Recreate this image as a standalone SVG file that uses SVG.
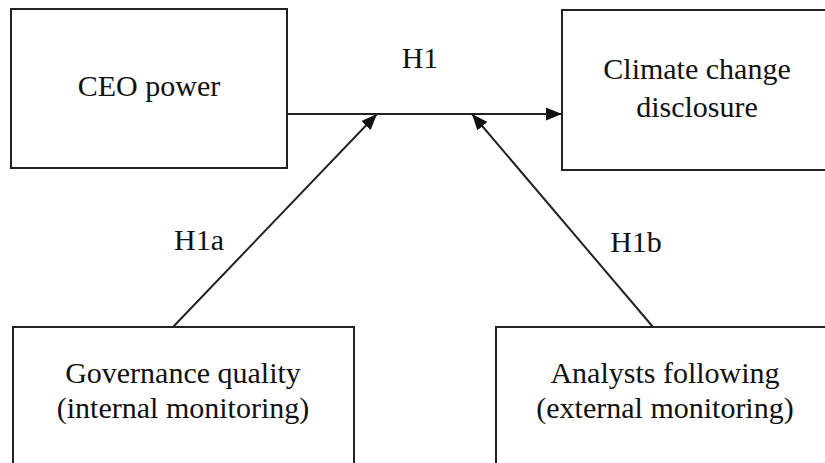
<svg xmlns="http://www.w3.org/2000/svg" width="825" height="463" viewBox="0 0 825 463">
  <style>
    .box { fill: #ffffff; stroke: #222222; stroke-width: 2; }
    .lbl { font-family: "Liberation Serif", "Times New Roman", serif; font-size: 30px; fill: #111111; text-anchor: middle; }
    .link { stroke: #222222; stroke-width: 2; fill: none; }
  </style>
  <defs>
    <marker id="head" viewBox="0 0 10 10" refX="10" refY="5" markerWidth="8" markerHeight="8" markerUnits="userSpaceOnUse" orient="auto">
      <path d="M0,0 L10,5 L0,10 z" fill="#111111"/>
    </marker>
    <marker id="headBig" viewBox="0 0 10 10" refX="10" refY="5" markerWidth="16" markerHeight="13" markerUnits="userSpaceOnUse" orient="auto" preserveAspectRatio="none">
      <path d="M0,0 L10,5 L0,10 z" fill="#111111"/>
    </marker>
  </defs>

  <rect width="825" height="463" fill="#ffffff"/>

  <g id="connectors">
    <line class="link" x1="287" y1="114" x2="562" y2="114" marker-end="url(#headBig)"/>
    <line class="link" x1="173" y1="327" x2="377" y2="114" marker-end="url(#headBig)"/>
    <line class="link" x1="653" y1="327" x2="472" y2="114" marker-end="url(#headBig)"/>
    <text class="lbl" x="420" y="68">H1</text>
    <text class="lbl" x="199" y="250">H1a</text>
    <text class="lbl" x="636" y="252">H1b</text>
  </g>

  <g id="ceo-power">
    <rect class="box" x="11" y="9" width="276" height="159"/>
    <text class="lbl" x="149" y="96">CEO power</text>
  </g>

  <g id="climate-disclosure">
    <rect class="box" x="562" y="10" width="270" height="160"/>
    <text class="lbl" x="697" y="79">Climate change</text>
    <text class="lbl" x="697" y="117">disclosure</text>
  </g>

  <g id="governance-quality">
    <rect class="box" x="13" y="327" width="341" height="150"/>
    <text class="lbl" x="183" y="383">Governance quality</text>
    <text class="lbl" x="183" y="418">(internal monitoring)</text>
  </g>

  <g id="analysts-following">
    <rect class="box" x="496" y="327" width="338" height="150"/>
    <text class="lbl" x="665" y="383">Analysts following</text>
    <text class="lbl" x="665" y="418">(external monitoring)</text>
  </g>
</svg>
